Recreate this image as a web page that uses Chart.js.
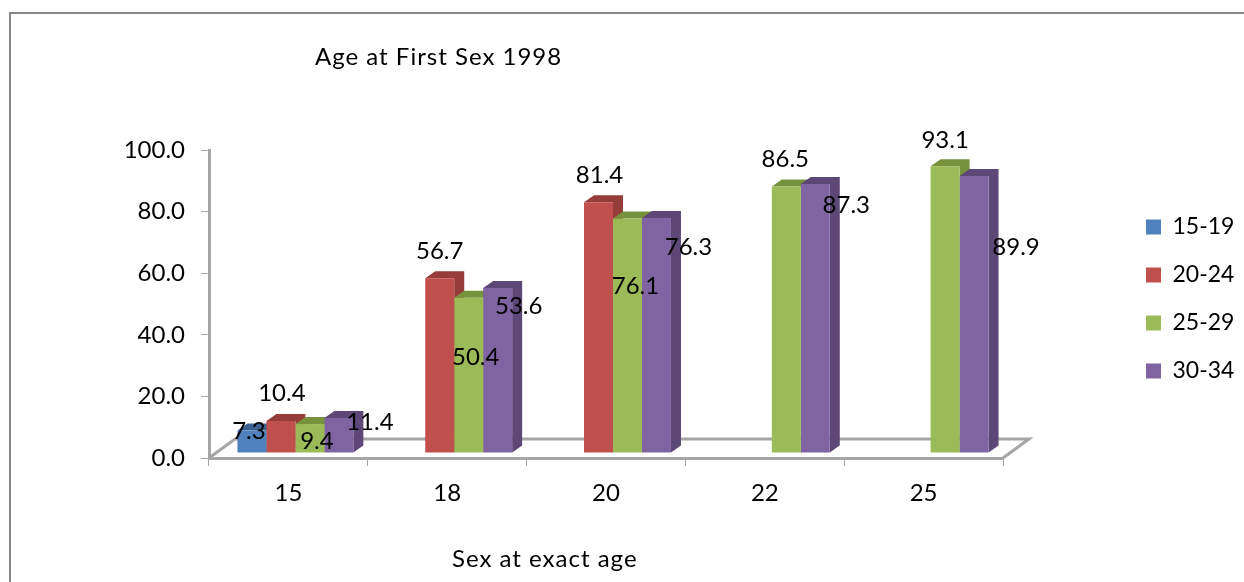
<!DOCTYPE html>
<html>
<head>
<meta charset="utf-8">
<title>Age at First Sex 1998</title>
<script src="https://cdn.jsdelivr.net/npm/chart.js@4/dist/chart.umd.min.js"></script>
<style>
  html, body { margin: 0; padding: 0; background: #fff; overflow: hidden; }
  #frame { position: absolute; left: 9px; top: 12px; width: 1235px; height: 570px; border-left: 2px solid #868686; border-top: 2px solid #868686; }
  #theChart { position: absolute; left: 0; top: 0; }
</style>
</head>
<body>
<div id="frame"></div>
<canvas id="theChart" width="1244" height="582"></canvas>
<script>
'use strict';

const categories = ['15', '18', '20', '22', '25'];
const seriesNames = ['15-19', '20-24', '25-29', '30-34'];
const values1519 = [7.3, null, null, null, null];
const values2024 = [10.4, 56.7, 81.4, null, null];
const values2529 = [9.4, 50.4, 76.1, 86.5, 93.1];
const values3034 = [11.4, 53.6, 76.3, 87.3, 89.9];

const frontColors = ['#4f81bd', '#c0504d', '#9bbb59', '#8064a2'];
const sideColors = ['#3b6190', '#963d3a', '#76923c', '#5c4776'];

// the labels sit oddly in the original, so each one gets its own nudge from the bar top
const nudges = [
  [[-3, 1]],
  [[1, -28], [0, -27], [1, -27]],
  [[7, 17], [7, 59], [8, 68], [-1, -27], [0, -26]],
  [[31, 4], [21, 18], [32, 29], [31, 21], [42, 71]]
];

const FONT = 'Lato, Carlito, sans-serif';
const GREY = '#a6a6a6';
const shiftX = 7;    // bars stand a little inside the floor
const shiftY = -5;
const depthX = 10;
const depthY = -7;
const floorX = 26;
const floorY = -19;

const threeD = {
  id: 'threeD',
  beforeLayout(chart) {
    // room to the right of the plot, legend is moved back in afterLayout
    chart.legend.fit = function () {
      Object.getPrototypeOf(this).fit.call(this);
      this.width = 241;
    };
  },
  afterLayout(chart) {
    chart.legend.left = 1121;
    chart.legend.right = 1244;
    chart.legend.top = 146;
    chart.legend.bottom = 452;
  },
  beforeDatasetsDraw(chart) {
    const ctx = chart.ctx;
    const area = chart.chartArea;

    ctx.save();
    ctx.strokeStyle = GREY;
    ctx.lineWidth = 3;
    ctx.beginPath();
    ctx.moveTo(area.left, area.bottom);
    ctx.lineTo(area.left + floorX, area.bottom + floorY);
    ctx.lineTo(area.right + floorX, area.bottom + floorY);
    ctx.lineTo(area.right, area.bottom);
    ctx.stroke();
    ctx.restore();

    ctx.save();
    ctx.translate(shiftX, shiftY);
    chart.data.datasets.forEach(function (ds, i) {
      chart.getDatasetMeta(i).data.forEach(function (bar, j) {
        if (ds.data[j] === null) return;
        const half = bar.width / 2;
        const left = bar.x - half;
        const right = bar.x + half;
        ctx.fillStyle = sideColors[i];
        ctx.beginPath();
        ctx.moveTo(left, bar.y);
        ctx.lineTo(left + depthX, bar.y + depthY);
        ctx.lineTo(right + depthX, bar.y + depthY);
        ctx.lineTo(right + depthX, bar.base + depthY);
        ctx.lineTo(right, bar.base);
        ctx.lineTo(right, bar.y);
        ctx.closePath();
        ctx.fill();
      });
    });
  },
  afterDatasetsDraw(chart) {
    const ctx = chart.ctx;
    ctx.restore();

    ctx.save();
    ctx.fillStyle = '#000';
    ctx.font = '24px ' + FONT;
    ctx.textAlign = 'center';
    ctx.textBaseline = 'middle';
    chart.data.datasets.forEach(function (ds, i) {
      chart.getDatasetMeta(i).data.forEach(function (bar, j) {
        if (ds.data[j] === null) return;
        const n = nudges[i][j];
        ctx.fillText(ds.data[j].toFixed(1), bar.x + shiftX + n[0], bar.y + shiftY + n[1]);
      });
    });

    ctx.textAlign = 'left';
    ctx.letterSpacing = '1px';
    ctx.fillText('Age at First Sex 1998', 315, 57);
    ctx.fillText('Sex at exact age', 452, 559);
    ctx.restore();
  }
};

const datasets = [];
[values1519, values2024, values2529, values3034].forEach(function (vals, i) {
  datasets.push({
    label: seriesNames[i],
    data: vals,
    backgroundColor: frontColors[i],
    categoryPercentage: 0.73,
    barPercentage: 1,
    clip: false
  });
});

new Chart(document.getElementById('theChart').getContext('2d'), {
  type: 'bar',
  data: { labels: categories, datasets: datasets },
  plugins: [threeD],
  options: {
    responsive: false,
    animation: false,
    layout: { padding: { top: 150, left: 0, right: 0, bottom: 0 } },
    plugins: {
      tooltip: { enabled: false },
      title: { display: false },
      legend: {
        position: 'right',
        labels: {
          boxWidth: 15,
          boxHeight: 15,
          padding: 25,
          color: '#000',
          font: { family: FONT, size: 23 }
        }
      }
    },
    scales: {
      x: {
        afterFit(scale) { scale.height = 124; },
        grid: { drawOnChartArea: false, offset: true, tickLength: 8, color: GREY },
        border: { color: GREY, width: 3 },
        ticks: { color: '#000', padding: 13, font: { family: FONT, size: 24 }, maxRotation: 0 }
      },
      y: {
        min: 0,
        max: 100,
        afterFit(scale) { scale.width = 209; },
        grid: { drawOnChartArea: false, tickLength: 8, color: GREY },
        border: { color: GREY, width: 3 },
        ticks: {
          stepSize: 20,
          color: '#000',
          padding: 16,
          font: { family: FONT, size: 24 },
          callback(v) { return v.toFixed(1); }
        }
      }
    }
  }
});
</script>
</body>
</html>
